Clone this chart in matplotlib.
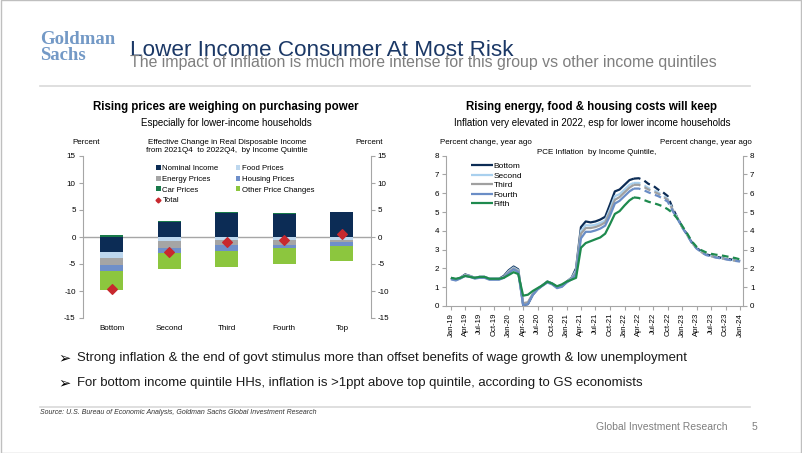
import matplotlib
matplotlib.use("Agg")
import matplotlib.pyplot as plt
import matplotlib.patches as mpatches
import matplotlib.lines as mlines
import numpy as np
import pandas as pd

plt.rcParams['font.family'] = ['Liberation Sans', 'DejaVu Sans']
plt.rcParams['axes.unicode_minus'] = False

# ---- left chart data (percent, 2021Q4 -> 2022Q4) ----
quintiles = ["Bottom", "Second", "Third", "Fourth", "Top"]
nominal_income = [-2.7, 2.8, 4.5, 4.3, 4.6]
food_prices = [-1.1, -0.7, -0.6, -0.5, -0.5]
energy_prices = [-1.3, -1.3, -0.9, -1.0, -0.4]
housing_prices = [-1.2, -0.9, -1.0, -0.6, -0.7]
car_prices = [0.4, 0.2, 0.15, 0.1, 0.1]
other_prices = [-3.6, -3.0, -3.0, -2.9, -2.8]
total = [-9.6, -2.8, -0.9, -0.6, 0.5]

# ---- right chart data (PCE inflation, % yoy, Jan-19 .. Jan-24) ----
months = pd.date_range("2019-01-01", "2024-01-01", freq="MS")
last_actual = "2022-03-01"
bottom = [1.50, 1.40, 1.50, 1.68, 1.60, 1.50, 1.55, 1.55, 1.45, 1.45, 1.45, 1.60,
          1.90, 2.10, 1.95, 0.05, 0.10, 0.60, 0.90, 1.10, 1.30, 1.20, 1.00, 1.05,
          1.30, 1.50, 2.00, 4.20, 4.50, 4.45, 4.50, 4.60, 4.75, 5.40, 6.10, 6.20,
          6.45, 6.70, 6.78, 6.80, 6.70, 6.50, 6.40, 6.20, 6.05, 5.85, 5.20, 4.70,
          4.20, 3.80, 3.40, 3.10, 2.90, 2.75, 2.68, 2.62, 2.57, 2.53, 2.48, 2.44,
          2.40]
second = [1.45, 1.40, 1.50, 1.65, 1.60, 1.50, 1.55, 1.55, 1.45, 1.45, 1.45, 1.55,
          1.85, 2.05, 1.90, 0.10, 0.15, 0.62, 0.90, 1.10, 1.30, 1.20, 1.00, 1.05,
          1.30, 1.48, 1.90, 4.00, 4.30, 4.28, 4.32, 4.42, 4.55, 5.15, 5.85, 5.95,
          6.20, 6.45, 6.55, 6.55, 6.45, 6.28, 6.18, 6.05, 5.88, 5.70, 5.15, 4.70,
          4.20, 3.80, 3.40, 3.08, 2.88, 2.73, 2.66, 2.60, 2.55, 2.51, 2.46, 2.42,
          2.39]
third = [1.45, 1.38, 1.48, 1.63, 1.58, 1.48, 1.53, 1.53, 1.43, 1.43, 1.43, 1.53,
         1.80, 2.00, 1.85, 0.15, 0.20, 0.65, 0.90, 1.10, 1.28, 1.18, 1.00, 1.05,
         1.28, 1.45, 1.80, 3.85, 4.15, 4.15, 4.20, 4.30, 4.45, 5.00, 5.65, 5.80,
         6.05, 6.30, 6.45, 6.45, 6.35, 6.20, 6.10, 5.98, 5.82, 5.65, 5.12, 4.68,
         4.18, 3.78, 3.38, 3.07, 2.87, 2.72, 2.65, 2.59, 2.54, 2.50, 2.45, 2.41,
         2.38]
fourth = [1.42, 1.36, 1.46, 1.60, 1.55, 1.46, 1.50, 1.50, 1.40, 1.40, 1.40, 1.50,
          1.75, 1.95, 1.80, 0.05, 0.10, 0.60, 0.88, 1.08, 1.25, 1.15, 0.95, 1.02,
          1.25, 1.42, 1.70, 3.60, 3.95, 3.95, 4.02, 4.12, 4.28, 4.80, 5.45, 5.60,
          5.85, 6.10, 6.25, 6.25, 6.17, 6.05, 5.95, 5.85, 5.72, 5.55, 5.05, 4.65,
          4.17, 3.77, 3.37, 3.06, 2.86, 2.71, 2.64, 2.58, 2.53, 2.49, 2.44, 2.40,
          2.37]
fifth = [1.50, 1.45, 1.50, 1.60, 1.55, 1.50, 1.55, 1.55, 1.45, 1.45, 1.45, 1.50,
         1.65, 1.80, 1.70, 0.55, 0.60, 0.80, 0.95, 1.10, 1.30, 1.20, 1.05, 1.15,
         1.30, 1.40, 1.50, 3.10, 3.35, 3.45, 3.55, 3.65, 3.85, 4.35, 4.90, 5.05,
         5.35, 5.62, 5.78, 5.75, 5.65, 5.55, 5.48, 5.40, 5.30, 5.15, 4.95, 4.65,
         4.25, 3.85, 3.45, 3.15, 2.97, 2.85, 2.78, 2.73, 2.70, 2.65, 2.60, 2.55,
         2.48]

W, H = 802, 453
fig = plt.figure(figsize=(W / 100, H / 100), dpi=100)


def fx(x):
    return x / W


def fy(y):
    return 1 - y / H


def text(x, y, s, **kw):
    kw.setdefault('va', 'center')
    fig.text(fx(x), fy(y), s, **kw)


# ---- slide frame and header ----
fig.add_artist(mpatches.Rectangle((0.001, 0.001), 0.998, 0.998, transform=fig.transFigure,
                                  fill=False, edgecolor='#bfbfbf', lw=1))
text(40, 40, "Goldman", family=['Liberation Serif'], weight='bold', fontsize=13.5, color='#7399c6')
text(40, 56, "Sachs", family=['Liberation Serif'], weight='bold', fontsize=13.5, color='#7399c6')
text(130, 51, "Lower Income Consumer At Most Risk", fontsize=16.2, color='#1b3866')
text(130, 63, "The impact of inflation is much more intense for this group vs other income quintiles",
     fontsize=11.4, color='#7f7f7f')
fig.add_artist(mlines.Line2D([fx(40), fx(750)], [fy(86), fy(86)], transform=fig.transFigure,
                             color='#d9d9d9', lw=1.2))

# ---- chart titles ----
text(226, 107, "Rising prices are weighing on purchasing power", ha='center', weight='bold', fontsize=8.3)
text(226, 123, "Especially for lower-income households", ha='center', fontsize=7)
text(592, 107, "Rising energy, food & housing costs will keep", ha='center', weight='bold', fontsize=8.3)
text(592, 123, "Inflation very elevated in 2022, esp for lower income households", ha='center', fontsize=7)

# ---- left chart: stacked bars ----
ax1 = fig.add_axes([fx(82.7), fy(318), (370.7 - 82.7) / W, 162 / H])
comps = [("Nominal Income", nominal_income, '#0c2c55'),
         ("Food Prices", food_prices, '#bdd7ee'),
         ("Energy Prices", energy_prices, '#a5a5a5'),
         ("Housing Prices", housing_prices, '#6f8fc9'),
         ("Car Prices", car_prices, '#18794a'),
         ("Other Price Changes", other_prices, '#8cc63e')]
x = np.arange(len(quintiles))
pos = np.zeros(len(quintiles))
neg = np.zeros(len(quintiles))
handles = {}
for name, vals, col in comps:
    vals = np.array(vals)
    base = np.where(vals >= 0, pos, neg)
    b = ax1.bar(x, vals, bottom=base, width=0.4, color=col, label=name, zorder=2)
    handles[name] = b
    pos = pos + np.where(vals >= 0, vals, 0)
    neg = neg + np.where(vals < 0, vals, 0)
ax1.scatter(x, total, marker='D', s=24, color='#c8282e', zorder=4, label="Total")
ax1.axhline(0, color='#a6a6a6', lw=1, zorder=1)
ax1.set_xlim(-0.5, 4.5)
ax1.set_ylim(-15, 15)
ax1.set_yticks(range(-15, 16, 5))
ax1.set_xticks(x)
ax1.set_xticklabels(quintiles)
ax1.tick_params(axis='x', length=0, labelsize=5.8, pad=5)
ax1.tick_params(axis='y', labelsize=5.8, length=3, color='#a6a6a6', right=True, labelright=True, pad=2)
for s in ['top', 'bottom']:
    ax1.spines[s].set_visible(False)
for s in ['left', 'right']:
    ax1.spines[s].set_color('#a6a6a6')
tot_handle = mlines.Line2D([], [], marker='D', ls='none', color='#c8282e', markersize=2.5)
order = ["Nominal Income", "Energy Prices", "Car Prices", None,
         "Food Prices", "Housing Prices", "Other Price Changes"]
hs = [handles[n] if n else tot_handle for n in order]
ls = [n if n else "Total" for n in order]
ax1.legend(hs, ls, loc='upper left', bbox_to_anchor=(0.255, 0.945), ncol=2, frameon=False,
           fontsize=5.6, handlelength=0.6, handleheight=0.6, handletextpad=0.2,
           labelspacing=0.45, columnspacing=2.2, borderpad=0, borderaxespad=0)
text(72, 143, "Percent", fontsize=5.8)
text(383, 143, "Percent", fontsize=5.8, ha='right')
text(227, 142, "Effective Change in Real Disposable Income", fontsize=5.8, ha='center')
text(227, 151, "from 2021Q4  to 2022Q4,  by Income Quintile", fontsize=5.8, ha='center')

# ---- right chart: inflation lines ----
ax2 = fig.add_axes([fx(446), fy(306), (743 - 446) / W, (306 - 155.7) / H])
series = [("Bottom", bottom, '#0c2c55'), ("Second", second, '#a9d0ee'),
          ("Third", third, '#a0a0a0'), ("Fourth", fourth, '#6a8dc6'),
          ("Fifth", fifth, '#1e8a4e')]
df = pd.DataFrame({n: v for n, v, c in series}, index=months)
for n, v, c in series:
    act = df.loc[:last_actual, n]
    fc = df.loc[last_actual:, n]
    ax2.plot(act.index, act.values, color=c, lw=1.6, label=n, solid_capstyle='butt')
    ax2.plot(fc.index, fc.values, color=c, lw=1.6, ls=(0, (3, 2)))
ax2.set_ylim(0, 8)
ax2.set_xlim(months[0] - pd.Timedelta(days=31), months[-1] + pd.Timedelta(days=18))
tick_dates = months[::3]
ax2.set_xticks(tick_dates)
ax2.set_xticklabels([d.strftime("%b-%y") for d in tick_dates], rotation=90)
ax2.set_yticks(range(0, 9))
ax2.tick_params(axis='x', labelsize=5.6, length=3, color='#a6a6a6', pad=2)
ax2.tick_params(axis='y', labelsize=5.8, length=3, color='#a6a6a6', right=True, labelright=True, pad=2)
ax2.spines['top'].set_visible(False)
for s in ['left', 'right', 'bottom']:
    ax2.spines[s].set_color('#a6a6a6')
ax2.legend(loc='upper left', bbox_to_anchor=(0.085, 0.955), frameon=False, fontsize=6,
           handlelength=2.6, handletextpad=0.1, labelspacing=0.2, borderpad=0, borderaxespad=0)
text(440, 143, "Percent change, year ago", fontsize=5.8)
text(752, 143, "Percent change, year ago", fontsize=5.8, ha='right')
text(597, 153, "PCE Inflation  by Income Quintile,", fontsize=5.8, ha='center')

# ---- bullets and footer ----
for yy, s in [(358, "Strong inflation & the end of govt stimulus more than offset benefits of wage growth & low unemployment"),
              (383, "For bottom income quintile HHs, inflation is >1ppt above top quintile, according to GS economists")]:
    text(58, yy, "\u27a2", family=['DejaVu Sans'], fontsize=10.5)
    text(77, yy, s, fontsize=9.45, color='#1a1a1a')
fig.add_artist(mlines.Line2D([fx(40), fx(750)], [fy(407), fy(407)], transform=fig.transFigure,
                             color='#d9d9d9', lw=1.2))
text(40, 413, "Source: U.S. Bureau of Economic Analysis, Goldman Sachs Global Investment Research",
     fontsize=5.0, style='italic', color='#333333')
text(728, 427, "Global Investment Research", fontsize=7.5, color='#7f7f7f', ha='right')
text(752, 427, "5", fontsize=7.5, color='#7f7f7f')

fig.savefig("out.png", dpi=100)
